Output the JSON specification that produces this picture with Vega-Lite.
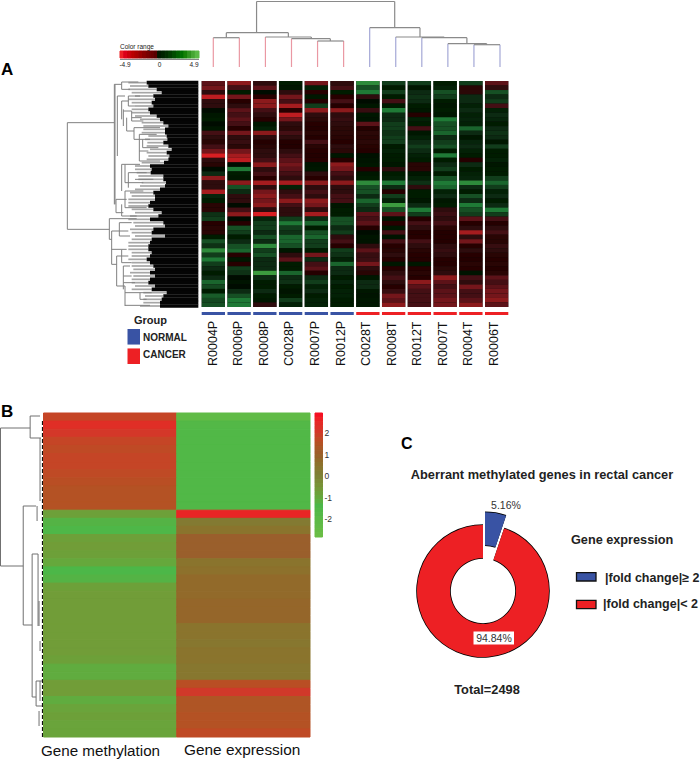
{"$schema":"https://vega.github.io/schema/vega-lite/v6.json","width":700,"height":765,"padding":0,"autosize":{"type":"fit","contains":"padding"},"background":"white",
"config":{"view":{"stroke":null},"axis":{"disable":true},"legend":{"disable":true},"text":{"font":"Liberation Sans"}},
"resolve":{"scale":{"x":"independent","y":"independent","color":"independent","stroke":"independent","theta":"independent"}},
"datasets":{
"samples":[{"c":0,"name":"R0004P","g":"NORMAL"},{"c":1,"name":"R0006P","g":"NORMAL"},{"c":2,"name":"R0008P","g":"NORMAL"},{"c":3,"name":"C0028P","g":"NORMAL"},{"c":4,"name":"R0007P","g":"NORMAL"},{"c":5,"name":"R0012P","g":"NORMAL"},{"c":6,"name":"C0028T","g":"CANCER"},{"c":7,"name":"R0008T","g":"CANCER"},{"c":8,"name":"R0012T","g":"CANCER"},{"c":9,"name":"R0007T","g":"CANCER"},{"c":10,"name":"R0004T","g":"CANCER"},{"c":11,"name":"R0006T","g":"CANCER"}],
"groups":[{"g":"NORMAL"},{"g":"CANCER"}],
"donut":[{"group":"|fold change|≥ 2","pct":5.16,"from":0,"to":5.16,"explode":1},{"group":"|fold change|< 2","pct":94.84,"from":5.16,"to":100,"explode":0}],
"colorRange":[{"v":-4.9},{"v":-4.4},{"v":-3.9},{"v":-3.4},{"v":-2.9},{"v":-2.4},{"v":-1.9},{"v":-1.4},{"v":-0.9},{"v":-0.4},{"v":0},{"v":0.4},{"v":0.9},{"v":1.4},{"v":1.9},{"v":2.4},{"v":2.9},{"v":3.4},{"v":3.9},{"v":4.4},{"v":4.9}],
"colorBar":[{"v":2.9},{"v":2.7},{"v":2.5},{"v":2.3},{"v":2.1},{"v":1.9},{"v":1.7},{"v":1.5},{"v":1.3},{"v":1.1},{"v":0.9},{"v":0.7},{"v":0.5},{"v":0.3},{"v":0.1},{"v":-0.1},{"v":-0.3},{"v":-0.5},{"v":-0.7},{"v":-0.9},{"v":-1.1},{"v":-1.3},{"v":-1.5},{"v":-1.7},{"v":-1.9},{"v":-2.1},{"v":-2.3},{"v":-2.5},{"v":-2.7},{"v":-2.9}],
"colTree":[
{"a":0,"b":0,"c":0,"d":29.3,"k":"cancer"},{"a":1,"b":0,"c":1,"d":29.3,"k":"cancer"},{"a":2,"b":0,"c":2,"d":30,"k":"cancer"},{"a":3,"b":0,"c":3,"d":28.3,"k":"cancer"},{"a":4,"b":0,"c":4,"d":26,"k":"cancer"},{"a":5,"b":0,"c":5,"d":26,"k":"cancer"},
{"a":6,"b":0,"c":6,"d":39.3,"k":"normal"},{"a":7,"b":0,"c":7,"d":30,"k":"normal"},{"a":8,"b":0,"c":8,"d":29.3,"k":"normal"},{"a":9,"b":0,"c":9,"d":23.3,"k":"normal"},{"a":10,"b":0,"c":10,"d":22.3,"k":"normal"},{"a":11,"b":0,"c":11,"d":22.3,"k":"normal"},
{"a":0,"b":29.3,"c":1,"d":29.3,"k":"root"},{"a":0.5,"b":29.3,"c":0.5,"d":34.3,"k":"root"},{"a":4,"b":26,"c":5,"d":26,"k":"root"},{"a":4.49,"b":26,"c":4.49,"d":28.3,"k":"root"},{"a":3,"b":28.3,"c":4.49,"d":28.3,"k":"root"},{"a":3.76,"b":28.3,"c":3.76,"d":30,"k":"root"},{"a":2,"b":30,"c":3.76,"d":30,"k":"root"},{"a":2.88,"b":30,"c":2.88,"d":34.3,"k":"root"},{"a":0.5,"b":34.3,"c":2.88,"d":34.3,"k":"root"},{"a":1.66,"b":34.3,"c":1.66,"d":65.5,"k":"root"},{"a":1.66,"b":65.5,"c":6.96,"d":65.5,"k":"root"},{"a":6.96,"b":39.3,"c":6.96,"d":65.5,"k":"root"},{"a":6,"b":39.3,"c":7.93,"d":39.3,"k":"root"},{"a":7.93,"b":30,"c":7.93,"d":39.3,"k":"root"},{"a":7,"b":30,"c":8.86,"d":30,"k":"root"},{"a":8.86,"b":29.3,"c":8.86,"d":30,"k":"root"},{"a":8,"b":29.3,"c":9.73,"d":29.3,"k":"root"},{"a":9.73,"b":23.3,"c":9.73,"d":29.3,"k":"root"},{"a":9,"b":23.3,"c":10.49,"d":23.3,"k":"root"},{"a":10.49,"b":22.3,"c":10.49,"d":23.3,"k":"root"},{"a":10,"b":22.3,"c":11,"d":22.3,"k":"root"}],
"rowTree":[
{"a":22,"b":140,"c":22,"d":460},{"a":22,"b":140,"c":163,"d":140},{"a":22,"b":460,"c":148,"d":460},{"a":163,"b":25,"c":163,"d":385},{"a":165,"b":25,"c":165,"d":385},{"a":163,"b":25,"c":185,"d":25},{"a":185,"b":18,"c":185,"d":40},{"a":185,"b":18,"c":235,"d":18},{"a":185,"b":40,"c":210,"d":40},{"a":172,"b":60,"c":195,"d":60},{"a":172,"b":60,"c":172,"d":240},{"a":185,"b":75,"c":185,"d":130},{"a":185,"b":75,"c":205,"d":75},{"a":205,"b":60,"c":205,"d":90},{"a":205,"b":60,"c":240,"d":60},{"a":205,"b":90,"c":225,"d":90},{"a":190,"b":105,"c":215,"d":105},{"a":190,"b":100,"c":190,"d":150},{"a":215,"b":105,"c":215,"d":135},{"a":215,"b":125,"c":245,"d":125},{"a":215,"b":135,"c":250,"d":135},{"a":200,"b":125,"c":200,"d":165},{"a":200,"b":165,"c":222,"d":165},{"a":222,"b":155,"c":222,"d":190},{"a":222,"b":155,"c":300,"d":155},{"a":222,"b":190,"c":270,"d":190},{"a":238,"b":175,"c":238,"d":255},{"a":238,"b":175,"c":290,"d":175},{"a":238,"b":225,"c":265,"d":225},{"a":238,"b":255,"c":300,"d":255},{"a":248,"b":190,"c":248,"d":215},{"a":248,"b":215,"c":295,"d":215},{"a":185,"b":265,"c":185,"d":345},{"a":185,"b":265,"c":240,"d":265},{"a":195,"b":265,"c":195,"d":320},{"a":195,"b":320,"c":250,"d":320},{"a":205,"b":290,"c":205,"d":335},{"a":205,"b":290,"c":260,"d":290},{"a":225,"b":310,"c":280,"d":310},{"a":168,"b":370,"c":168,"d":410},{"a":168,"b":370,"c":200,"d":370},{"a":168,"b":410,"c":190,"d":410},{"a":195,"b":345,"c":195,"d":395},{"a":195,"b":345,"c":250,"d":345},{"a":195,"b":395,"c":260,"d":395},{"a":185,"b":385,"c":185,"d":420},{"a":185,"b":420,"c":230,"d":420},
{"a":148,"b":428,"c":230,"d":428},{"a":148,"b":428,"c":148,"d":490},{"a":148,"b":490,"c":155,"d":490},{"a":178,"b":440,"c":178,"d":480},{"a":178,"b":440,"c":215,"d":440},{"a":178,"b":465,"c":205,"d":465},{"a":178,"b":480,"c":210,"d":480},{"a":155,"b":465,"c":155,"d":565},{"a":155,"b":465,"c":178,"d":465},{"a":155,"b":565,"c":170,"d":565},{"a":155,"b":520,"c":185,"d":520},{"a":170,"b":540,"c":170,"d":630},{"a":170,"b":540,"c":205,"d":540},{"a":170,"b":630,"c":195,"d":630},{"a":185,"b":520,"c":185,"d":560},{"a":185,"b":520,"c":200,"d":520},{"a":185,"b":560,"c":215,"d":560},{"a":190,"b":570,"c":190,"d":640},{"a":190,"b":570,"c":210,"d":570},{"a":190,"b":600,"c":215,"d":600},{"a":190,"b":620,"c":225,"d":620},{"a":195,"b":630,"c":195,"d":690},{"a":195,"b":650,"c":240,"d":650},{"a":195,"b":688,"c":270,"d":688},{"a":240,"b":650,"c":240,"d":670},{"a":240,"b":650,"c":275,"d":650},{"a":240,"b":670,"c":260,"d":670}],
"leaves":[{"y":20,"s":205,"e":260},{"y":30,"s":210,"e":265},{"y":40,"s":205,"e":290},{"y":50,"s":215,"e":305},{"y":60,"s":225,"e":280},{"y":70,"s":205,"e":285},{"y":80,"s":215,"e":275},{"y":90,"s":225,"e":280},{"y":100,"s":215,"e":265},{"y":110,"s":215,"e":270},{"y":120,"s":225,"e":290},{"y":130,"s":240,"e":300},{"y":140,"s":245,"e":310},{"y":150,"s":250,"e":325},{"y":160,"s":250,"e":315},{"y":170,"s":245,"e":315},{"y":180,"s":265,"e":320},{"y":190,"s":255,"e":322},{"y":200,"s":262,"e":310},{"y":210,"s":260,"e":325},{"y":220,"s":270,"e":335},{"y":230,"s":260,"e":320},{"y":240,"s":265,"e":328},{"y":250,"s":260,"e":325},{"y":260,"s":245,"e":312},{"y":270,"s":225,"e":270},{"y":280,"s":225,"e":275},{"y":290,"s":230,"e":272},{"y":300,"s":235,"e":310},{"y":310,"s":235,"e":310},{"y":320,"s":245,"e":318},{"y":330,"s":240,"e":315},{"y":340,"s":225,"e":300},{"y":350,"s":210,"e":280},{"y":360,"s":215,"e":285},{"y":370,"s":205,"e":285},{"y":380,"s":205,"e":270},{"y":390,"s":205,"e":265},{"y":400,"s":215,"e":280},{"y":410,"s":225,"e":305},{"y":420,"s":210,"e":295},{"y":430,"s":205,"e":270},{"y":440,"s":220,"e":310},{"y":450,"s":225,"e":315},{"y":460,"s":210,"e":280},{"y":470,"s":215,"e":275},{"y":480,"s":225,"e":315},{"y":490,"s":215,"e":275},{"y":500,"s":205,"e":270},{"y":510,"s":205,"e":265},{"y":520,"s":205,"e":265},{"y":530,"s":215,"e":275},{"y":540,"s":215,"e":270},{"y":550,"s":205,"e":260},{"y":560,"s":215,"e":270},{"y":570,"s":215,"e":280},{"y":580,"s":220,"e":285},{"y":590,"s":210,"e":270},{"y":600,"s":220,"e":285},{"y":610,"s":215,"e":270},{"y":620,"s":215,"e":265},{"y":630,"s":225,"e":285},{"y":640,"s":215,"e":275},{"y":650,"s":250,"e":320},{"y":660,"s":255,"e":310},{"y":670,"s":250,"e":305},{"y":680,"s":250,"e":300},{"y":690,"s":240,"e":300}],
"methTree":[{"a":0,"b":427,"c":0,"d":565},{"a":0,"b":427,"c":30,"d":427},{"a":30,"b":415,"c":30,"d":437},{"a":30,"b":415,"c":40,"d":415},{"a":30,"b":437,"c":41,"d":437},{"a":0,"b":565,"c":23,"d":565},{"a":23,"b":505,"c":23,"d":624},{"a":23,"b":505,"c":36,"d":505},{"a":23,"b":624,"c":32,"d":624},{"a":32,"b":553,"c":32,"d":696},{"a":32,"b":553,"c":38,"d":553},{"a":32,"b":696,"c":36,"d":696},{"a":40,"b":437,"c":40,"d":500},{"a":37,"b":505,"c":37,"d":520},{"a":38,"b":553,"c":38,"d":625},{"a":39,"b":600,"c":39,"d":625},{"a":40,"b":640,"c":40,"d":650},{"a":40,"b":680,"c":40,"d":700},{"a":36,"b":680,"c":36,"d":705},{"a":36,"b":680,"c":42,"d":680},{"a":36,"b":705,"c":42,"d":705},{"a":39,"b":710,"c":39,"d":725}],
"methDash":[{"a":42.5,"b":420,"c":42.5,"d":736}],
"cellsB":[
{"k":"Gene methylation","r":0,"v":1.8},{"k":"Gene methylation","r":1,"v":2.4},{"k":"Gene methylation","r":2,"v":2.1},{"k":"Gene methylation","r":3,"v":1.8},{"k":"Gene methylation","r":4,"v":1.7},{"k":"Gene methylation","r":5,"v":1.8},{"k":"Gene methylation","r":6,"v":1.8},{"k":"Gene methylation","r":7,"v":1.7},{"k":"Gene methylation","r":8,"v":1.6},{"k":"Gene methylation","r":9,"v":1.5},{"k":"Gene methylation","r":10,"v":1.5},{"k":"Gene methylation","r":11,"v":1.5},{"k":"Gene methylation","r":12,"v":-0.9},{"k":"Gene methylation","r":13,"v":-1.4},{"k":"Gene methylation","r":14,"v":-1.6},{"k":"Gene methylation","r":15,"v":-0.9},{"k":"Gene methylation","r":16,"v":-0.8},{"k":"Gene methylation","r":17,"v":-0.9},{"k":"Gene methylation","r":18,"v":-1.1},{"k":"Gene methylation","r":19,"v":-1.5},{"k":"Gene methylation","r":20,"v":-1.4},{"k":"Gene methylation","r":21,"v":-0.9},{"k":"Gene methylation","r":22,"v":-0.8},{"k":"Gene methylation","r":23,"v":-0.8},{"k":"Gene methylation","r":24,"v":-0.8},{"k":"Gene methylation","r":25,"v":-0.8},{"k":"Gene methylation","r":26,"v":-0.8},{"k":"Gene methylation","r":27,"v":-0.8},{"k":"Gene methylation","r":28,"v":-0.8},{"k":"Gene methylation","r":29,"v":-0.8},{"k":"Gene methylation","r":30,"v":-0.9},{"k":"Gene methylation","r":31,"v":-1.2},{"k":"Gene methylation","r":32,"v":-1.2},{"k":"Gene methylation","r":33,"v":-0.8},{"k":"Gene methylation","r":34,"v":-0.8},{"k":"Gene methylation","r":35,"v":-1.2},{"k":"Gene methylation","r":36,"v":-1.0},{"k":"Gene methylation","r":37,"v":-0.9},{"k":"Gene methylation","r":38,"v":-1.0},{"k":"Gene methylation","r":39,"v":-1.0},
{"k":"Gene expression","r":0,"v":-2.4},{"k":"Gene expression","r":1,"v":-1.8},{"k":"Gene expression","r":2,"v":-1.7},{"k":"Gene expression","r":3,"v":-1.7},{"k":"Gene expression","r":4,"v":-1.7},{"k":"Gene expression","r":5,"v":-1.7},{"k":"Gene expression","r":6,"v":-1.7},{"k":"Gene expression","r":7,"v":-1.7},{"k":"Gene expression","r":8,"v":-1.7},{"k":"Gene expression","r":9,"v":-1.7},{"k":"Gene expression","r":10,"v":-1.7},{"k":"Gene expression","r":11,"v":-1.7},{"k":"Gene expression","r":12,"v":2.6},{"k":"Gene expression","r":13,"v":0.2},{"k":"Gene expression","r":14,"v":0.4},{"k":"Gene expression","r":15,"v":1.0},{"k":"Gene expression","r":16,"v":1.0},{"k":"Gene expression","r":17,"v":1.0},{"k":"Gene expression","r":18,"v":0.4},{"k":"Gene expression","r":19,"v":0.5},{"k":"Gene expression","r":20,"v":0.7},{"k":"Gene expression","r":21,"v":0.7},{"k":"Gene expression","r":22,"v":0.7},{"k":"Gene expression","r":23,"v":0.8},{"k":"Gene expression","r":24,"v":0.8},{"k":"Gene expression","r":25,"v":0.8},{"k":"Gene expression","r":26,"v":0.4},{"k":"Gene expression","r":27,"v":0.4},{"k":"Gene expression","r":28,"v":0.3},{"k":"Gene expression","r":29,"v":0.4},{"k":"Gene expression","r":30,"v":0.4},{"k":"Gene expression","r":31,"v":0.3},{"k":"Gene expression","r":32,"v":0.3},{"k":"Gene expression","r":33,"v":1.6},{"k":"Gene expression","r":34,"v":2.0},{"k":"Gene expression","r":35,"v":1.4},{"k":"Gene expression","r":36,"v":1.4},{"k":"Gene expression","r":37,"v":1.5},{"k":"Gene expression","r":38,"v":1.5},{"k":"Gene expression","r":39,"v":1.7}],
"cellsA":[
{"c":0,"r":0,"v":-2},{"c":0,"r":1,"v":-2.5},{"c":0,"r":2,"v":-1},{"c":0,"r":3,"v":-4},{"c":0,"r":4,"v":-1},{"c":0,"r":5,"v":-1},{"c":0,"r":6,"v":0},{"c":0,"r":7,"v":0.3},{"c":0,"r":8,"v":0.5},{"c":0,"r":9,"v":0},{"c":0,"r":10,"v":0.3},{"c":0,"r":11,"v":-1.5},{"c":0,"r":12,"v":-1},{"c":0,"r":13,"v":-0.7},{"c":0,"r":14,"v":-1.5},{"c":0,"r":15,"v":-2.5},{"c":0,"r":16,"v":-4.5},{"c":0,"r":17,"v":-1},{"c":0,"r":18,"v":-0.7},{"c":0,"r":19,"v":0},{"c":0,"r":20,"v":1},{"c":0,"r":21,"v":-3},{"c":0,"r":22,"v":-1},{"c":0,"r":23,"v":-1},{"c":0,"r":24,"v":-3.5},{"c":0,"r":25,"v":0.8},{"c":0,"r":26,"v":0.5},{"c":0,"r":27,"v":-0.7},{"c":0,"r":28,"v":-0.7},{"c":0,"r":29,"v":1.2},{"c":0,"r":30,"v":1.5},{"c":0,"r":31,"v":-0.5},{"c":0,"r":32,"v":-0.7},{"c":0,"r":33,"v":-0.7},{"c":0,"r":34,"v":0.5},{"c":0,"r":35,"v":2},{"c":0,"r":36,"v":1.2},{"c":0,"r":37,"v":3.5},{"c":0,"r":38,"v":1.5},{"c":0,"r":39,"v":3},{"c":0,"r":40,"v":1.5},{"c":0,"r":41,"v":1},{"c":0,"r":42,"v":0.5},{"c":0,"r":43,"v":1},{"c":0,"r":44,"v":2.5},{"c":0,"r":45,"v":1.8},{"c":0,"r":46,"v":0.5},{"c":0,"r":47,"v":2.3},{"c":0,"r":48,"v":1.8},{"c":0,"r":49,"v":2},
{"c":1,"r":0,"v":-3},{"c":1,"r":1,"v":-1.5},{"c":1,"r":2,"v":0.5},{"c":1,"r":3,"v":-2.5},{"c":1,"r":4,"v":-0.5},{"c":1,"r":5,"v":-1},{"c":1,"r":6,"v":-2},{"c":1,"r":7,"v":-1.5},{"c":1,"r":8,"v":-2},{"c":1,"r":9,"v":-1.5},{"c":1,"r":10,"v":-0.5},{"c":1,"r":11,"v":-2.5},{"c":1,"r":12,"v":-1},{"c":1,"r":13,"v":-1.2},{"c":1,"r":14,"v":-0.8},{"c":1,"r":15,"v":-2.5},{"c":1,"r":16,"v":-3.5},{"c":1,"r":17,"v":-4},{"c":1,"r":18,"v":0},{"c":1,"r":19,"v":3},{"c":1,"r":20,"v":0.5},{"c":1,"r":21,"v":0.3},{"c":1,"r":22,"v":-3},{"c":1,"r":23,"v":2},{"c":1,"r":24,"v":1},{"c":1,"r":25,"v":-1},{"c":1,"r":26,"v":-1},{"c":1,"r":27,"v":0},{"c":1,"r":28,"v":-1.5},{"c":1,"r":29,"v":-3},{"c":1,"r":30,"v":0},{"c":1,"r":31,"v":-0.5},{"c":1,"r":32,"v":2},{"c":1,"r":33,"v":1.5},{"c":1,"r":34,"v":0.5},{"c":1,"r":35,"v":1},{"c":1,"r":36,"v":2},{"c":1,"r":37,"v":2.5},{"c":1,"r":38,"v":-0.5},{"c":1,"r":39,"v":0.3},{"c":1,"r":40,"v":-0.5},{"c":1,"r":41,"v":1.5},{"c":1,"r":42,"v":1.2},{"c":1,"r":43,"v":0},{"c":1,"r":44,"v":0.2},{"c":1,"r":45,"v":0},{"c":1,"r":46,"v":1},{"c":1,"r":47,"v":2},{"c":1,"r":48,"v":3},{"c":1,"r":49,"v":3},
{"c":2,"r":0,"v":-1},{"c":2,"r":1,"v":-2},{"c":2,"r":2,"v":0},{"c":2,"r":3,"v":-0.5},{"c":2,"r":4,"v":-3},{"c":2,"r":5,"v":-3},{"c":2,"r":6,"v":-1.5},{"c":2,"r":7,"v":-1},{"c":2,"r":8,"v":-0.5},{"c":2,"r":9,"v":0.3},{"c":2,"r":10,"v":0.7},{"c":2,"r":11,"v":-3},{"c":2,"r":12,"v":-1},{"c":2,"r":13,"v":-0.3},{"c":2,"r":14,"v":-0.7},{"c":2,"r":15,"v":-1},{"c":2,"r":16,"v":-1},{"c":2,"r":17,"v":-1.5},{"c":2,"r":18,"v":-3},{"c":2,"r":19,"v":-1},{"c":2,"r":20,"v":-1.5},{"c":2,"r":21,"v":-0.5},{"c":2,"r":22,"v":-3.5},{"c":2,"r":23,"v":-1},{"c":2,"r":24,"v":-2.5},{"c":2,"r":25,"v":-3},{"c":2,"r":26,"v":-2.5},{"c":2,"r":27,"v":-3},{"c":2,"r":28,"v":-1},{"c":2,"r":29,"v":-4.5},{"c":2,"r":30,"v":0.8},{"c":2,"r":31,"v":1.5},{"c":2,"r":32,"v":1.5},{"c":2,"r":33,"v":1},{"c":2,"r":34,"v":2},{"c":2,"r":35,"v":1},{"c":2,"r":36,"v":3.5},{"c":2,"r":37,"v":1.5},{"c":2,"r":38,"v":2},{"c":2,"r":39,"v":1},{"c":2,"r":40,"v":1},{"c":2,"r":41,"v":1},{"c":2,"r":42,"v":4},{"c":2,"r":43,"v":1},{"c":2,"r":44,"v":0.5},{"c":2,"r":45,"v":0.5},{"c":2,"r":46,"v":1},{"c":2,"r":47,"v":0.5},{"c":2,"r":48,"v":0.3},{"c":2,"r":49,"v":-1},
{"c":3,"r":0,"v":0.5},{"c":3,"r":1,"v":0.3},{"c":3,"r":2,"v":-1},{"c":3,"r":3,"v":-2.5},{"c":3,"r":4,"v":-1.5},{"c":3,"r":5,"v":-3.5},{"c":3,"r":6,"v":-0.5},{"c":3,"r":7,"v":-4},{"c":3,"r":8,"v":-2.5},{"c":3,"r":9,"v":-1},{"c":3,"r":10,"v":-0.8},{"c":3,"r":11,"v":-1.5},{"c":3,"r":12,"v":-1},{"c":3,"r":13,"v":-0.3},{"c":3,"r":14,"v":-0.2},{"c":3,"r":15,"v":-1},{"c":3,"r":16,"v":-1.5},{"c":3,"r":17,"v":-2},{"c":3,"r":18,"v":-2.5},{"c":3,"r":19,"v":-2},{"c":3,"r":20,"v":-1.5},{"c":3,"r":21,"v":-1},{"c":3,"r":22,"v":-3.5},{"c":3,"r":23,"v":0.7},{"c":3,"r":24,"v":-1},{"c":3,"r":25,"v":-1.5},{"c":3,"r":26,"v":-3},{"c":3,"r":27,"v":-1.5},{"c":3,"r":28,"v":-1},{"c":3,"r":29,"v":-1},{"c":3,"r":30,"v":1.5},{"c":3,"r":31,"v":3},{"c":3,"r":32,"v":1.5},{"c":3,"r":33,"v":1.2},{"c":3,"r":34,"v":2.5},{"c":3,"r":35,"v":2.5},{"c":3,"r":36,"v":2},{"c":3,"r":37,"v":0.3},{"c":3,"r":38,"v":-1},{"c":3,"r":39,"v":-2},{"c":3,"r":40,"v":0.5},{"c":3,"r":41,"v":0.5},{"c":3,"r":42,"v":2.5},{"c":3,"r":43,"v":1},{"c":3,"r":44,"v":1.2},{"c":3,"r":45,"v":0.5},{"c":3,"r":46,"v":0.2},{"c":3,"r":47,"v":0.5},{"c":3,"r":48,"v":1.5},{"c":3,"r":49,"v":0.7},
{"c":4,"r":0,"v":-2.5},{"c":4,"r":1,"v":0.7},{"c":4,"r":2,"v":-0.5},{"c":4,"r":3,"v":0.3},{"c":4,"r":4,"v":-0.3},{"c":4,"r":5,"v":1.5},{"c":4,"r":6,"v":-3},{"c":4,"r":7,"v":-1},{"c":4,"r":8,"v":-0.8},{"c":4,"r":9,"v":-0.5},{"c":4,"r":10,"v":-0.2},{"c":4,"r":11,"v":-0.7},{"c":4,"r":12,"v":-0.3},{"c":4,"r":13,"v":-1.5},{"c":4,"r":14,"v":-0.7},{"c":4,"r":15,"v":-0.5},{"c":4,"r":16,"v":-0.2},{"c":4,"r":17,"v":-0.5},{"c":4,"r":18,"v":0.2},{"c":4,"r":19,"v":0.3},{"c":4,"r":20,"v":-1},{"c":4,"r":21,"v":-0.5},{"c":4,"r":22,"v":-3},{"c":4,"r":23,"v":-1},{"c":4,"r":24,"v":-1.5},{"c":4,"r":25,"v":-1},{"c":4,"r":26,"v":-3},{"c":4,"r":27,"v":-2.5},{"c":4,"r":28,"v":-1},{"c":4,"r":29,"v":-3.5},{"c":4,"r":30,"v":1},{"c":4,"r":31,"v":2.5},{"c":4,"r":32,"v":0.5},{"c":4,"r":33,"v":2},{"c":4,"r":34,"v":2.5},{"c":4,"r":35,"v":1.5},{"c":4,"r":36,"v":1.5},{"c":4,"r":37,"v":0.5},{"c":4,"r":38,"v":-2.5},{"c":4,"r":39,"v":1},{"c":4,"r":40,"v":-1.5},{"c":4,"r":41,"v":-2},{"c":4,"r":42,"v":-0.3},{"c":4,"r":43,"v":1},{"c":4,"r":44,"v":1.5},{"c":4,"r":45,"v":0.7},{"c":4,"r":46,"v":1},{"c":4,"r":47,"v":0.5},{"c":4,"r":48,"v":0.7},{"c":4,"r":49,"v":0.7},
{"c":5,"r":0,"v":-1},{"c":5,"r":1,"v":-1.5},{"c":5,"r":2,"v":0.5},{"c":5,"r":3,"v":-0.5},{"c":5,"r":4,"v":-1.5},{"c":5,"r":5,"v":-0.3},{"c":5,"r":6,"v":-3},{"c":5,"r":7,"v":-1},{"c":5,"r":8,"v":-1.2},{"c":5,"r":9,"v":-1},{"c":5,"r":10,"v":-0.8},{"c":5,"r":11,"v":-0.8},{"c":5,"r":12,"v":-0.7},{"c":5,"r":13,"v":-0.5},{"c":5,"r":14,"v":-1},{"c":5,"r":15,"v":-0.8},{"c":5,"r":16,"v":0.3},{"c":5,"r":17,"v":-0.5},{"c":5,"r":18,"v":-3},{"c":5,"r":19,"v":-2.5},{"c":5,"r":20,"v":-1.5},{"c":5,"r":21,"v":-1},{"c":5,"r":22,"v":-3},{"c":5,"r":23,"v":-1},{"c":5,"r":24,"v":-1},{"c":5,"r":25,"v":-1.5},{"c":5,"r":26,"v":-1.5},{"c":5,"r":27,"v":0.3},{"c":5,"r":28,"v":0.5},{"c":5,"r":29,"v":0.5},{"c":5,"r":30,"v":2},{"c":5,"r":31,"v":2},{"c":5,"r":32,"v":1},{"c":5,"r":33,"v":1.5},{"c":5,"r":34,"v":-1},{"c":5,"r":35,"v":-1.5},{"c":5,"r":36,"v":-0.5},{"c":5,"r":37,"v":1.5},{"c":5,"r":38,"v":1.2},{"c":5,"r":39,"v":0.7},{"c":5,"r":40,"v":2.5},{"c":5,"r":41,"v":1},{"c":5,"r":42,"v":1},{"c":5,"r":43,"v":0.5},{"c":5,"r":44,"v":0.8},{"c":5,"r":45,"v":0.5},{"c":5,"r":46,"v":0.7},{"c":5,"r":47,"v":0.7},{"c":5,"r":48,"v":0.5},{"c":5,"r":49,"v":0.5},
{"c":6,"r":0,"v":3.5},{"c":6,"r":1,"v":2},{"c":6,"r":2,"v":3},{"c":6,"r":3,"v":-1},{"c":6,"r":4,"v":0},{"c":6,"r":5,"v":0.3},{"c":6,"r":6,"v":-1.2},{"c":6,"r":7,"v":0.3},{"c":6,"r":8,"v":0.2},{"c":6,"r":9,"v":-2},{"c":6,"r":10,"v":-0.3},{"c":6,"r":11,"v":-0.8},{"c":6,"r":12,"v":-0.7},{"c":6,"r":13,"v":-0.8},{"c":6,"r":14,"v":-0.6},{"c":6,"r":15,"v":-0.3},{"c":6,"r":16,"v":0.1},{"c":6,"r":17,"v":0.2},{"c":6,"r":18,"v":0.3},{"c":6,"r":19,"v":-0.3},{"c":6,"r":20,"v":0.3},{"c":6,"r":21,"v":0.5},{"c":6,"r":22,"v":3.5},{"c":6,"r":23,"v":2},{"c":6,"r":24,"v":2},{"c":6,"r":25,"v":1},{"c":6,"r":26,"v":2.5},{"c":6,"r":27,"v":1.5},{"c":6,"r":28,"v":1},{"c":6,"r":29,"v":-2},{"c":6,"r":30,"v":-1.5},{"c":6,"r":31,"v":-2},{"c":6,"r":32,"v":-0.2},{"c":6,"r":33,"v":0},{"c":6,"r":34,"v":0.2},{"c":6,"r":35,"v":0.2},{"c":6,"r":36,"v":-1},{"c":6,"r":37,"v":-2},{"c":6,"r":38,"v":-1.2},{"c":6,"r":39,"v":-1.3},{"c":6,"r":40,"v":-2.5},{"c":6,"r":41,"v":-1},{"c":6,"r":42,"v":-0.7},{"c":6,"r":43,"v":0.3},{"c":6,"r":44,"v":1},{"c":6,"r":45,"v":1},{"c":6,"r":46,"v":0.3},{"c":6,"r":47,"v":0.2},{"c":6,"r":48,"v":0.3},{"c":6,"r":49,"v":0.3},
{"c":7,"r":0,"v":1.5},{"c":7,"r":1,"v":0.5},{"c":7,"r":2,"v":1.5},{"c":7,"r":3,"v":0.5},{"c":7,"r":4,"v":-1.5},{"c":7,"r":5,"v":0.5},{"c":7,"r":6,"v":3},{"c":7,"r":7,"v":1},{"c":7,"r":8,"v":1},{"c":7,"r":9,"v":1.5},{"c":7,"r":10,"v":1.5},{"c":7,"r":11,"v":1.2},{"c":7,"r":12,"v":1.5},{"c":7,"r":13,"v":1.5},{"c":7,"r":14,"v":0.5},{"c":7,"r":15,"v":0.7},{"c":7,"r":16,"v":0.5},{"c":7,"r":17,"v":0.5},{"c":7,"r":18,"v":0.3},{"c":7,"r":19,"v":-1},{"c":7,"r":20,"v":0.5},{"c":7,"r":21,"v":0.7},{"c":7,"r":22,"v":3},{"c":7,"r":23,"v":1},{"c":7,"r":24,"v":-0.3},{"c":7,"r":25,"v":1.5},{"c":7,"r":26,"v":0.7},{"c":7,"r":27,"v":4},{"c":7,"r":28,"v":2},{"c":7,"r":29,"v":-2},{"c":7,"r":30,"v":0.2},{"c":7,"r":31,"v":-0.5},{"c":7,"r":32,"v":0.3},{"c":7,"r":33,"v":-1.5},{"c":7,"r":34,"v":0.2},{"c":7,"r":35,"v":-1.5},{"c":7,"r":36,"v":-0.5},{"c":7,"r":37,"v":-0.7},{"c":7,"r":38,"v":-1},{"c":7,"r":39,"v":-0.5},{"c":7,"r":40,"v":0.3},{"c":7,"r":41,"v":-0.5},{"c":7,"r":42,"v":-1},{"c":7,"r":43,"v":-1.5},{"c":7,"r":44,"v":-1},{"c":7,"r":45,"v":-0.5},{"c":7,"r":46,"v":-1.2},{"c":7,"r":47,"v":-2.5},{"c":7,"r":48,"v":-2},{"c":7,"r":49,"v":-3},
{"c":8,"r":0,"v":1.5},{"c":8,"r":1,"v":0.3},{"c":8,"r":2,"v":1},{"c":8,"r":3,"v":1.2},{"c":8,"r":4,"v":1},{"c":8,"r":5,"v":0.5},{"c":8,"r":6,"v":0.3},{"c":8,"r":7,"v":-0.3},{"c":8,"r":8,"v":0.7},{"c":8,"r":9,"v":0.5},{"c":8,"r":10,"v":-1.5},{"c":8,"r":11,"v":0.3},{"c":8,"r":12,"v":0.7},{"c":8,"r":13,"v":1},{"c":8,"r":14,"v":1.5},{"c":8,"r":15,"v":1},{"c":8,"r":16,"v":0.7},{"c":8,"r":17,"v":0.5},{"c":8,"r":18,"v":-0.7},{"c":8,"r":19,"v":-0.7},{"c":8,"r":20,"v":0.3},{"c":8,"r":21,"v":0.7},{"c":8,"r":22,"v":1.2},{"c":8,"r":23,"v":-1},{"c":8,"r":24,"v":0.5},{"c":8,"r":25,"v":0.5},{"c":8,"r":26,"v":0.3},{"c":8,"r":27,"v":1},{"c":8,"r":28,"v":3},{"c":8,"r":29,"v":1.5},{"c":8,"r":30,"v":-0.3},{"c":8,"r":31,"v":-1.5},{"c":8,"r":32,"v":-1},{"c":8,"r":33,"v":-0.3},{"c":8,"r":34,"v":-0.5},{"c":8,"r":35,"v":-1.5},{"c":8,"r":36,"v":-1},{"c":8,"r":37,"v":-0.7},{"c":8,"r":38,"v":-0.5},{"c":8,"r":39,"v":-0.3},{"c":8,"r":40,"v":0.3},{"c":8,"r":41,"v":-0.5},{"c":8,"r":42,"v":-0.7},{"c":8,"r":43,"v":-0.5},{"c":8,"r":44,"v":-3},{"c":8,"r":45,"v":-2},{"c":8,"r":46,"v":-1.5},{"c":8,"r":47,"v":-1.5},{"c":8,"r":48,"v":-1.5},{"c":8,"r":49,"v":-1.5},
{"c":9,"r":0,"v":0.5},{"c":9,"r":1,"v":0.7},{"c":9,"r":2,"v":2},{"c":9,"r":3,"v":1.5},{"c":9,"r":4,"v":0.5},{"c":9,"r":5,"v":0.3},{"c":9,"r":6,"v":0.5},{"c":9,"r":7,"v":0.3},{"c":9,"r":8,"v":3},{"c":9,"r":9,"v":2},{"c":9,"r":10,"v":2},{"c":9,"r":11,"v":2.5},{"c":9,"r":12,"v":1},{"c":9,"r":13,"v":1.5},{"c":9,"r":14,"v":2},{"c":9,"r":15,"v":0.5},{"c":9,"r":16,"v":3},{"c":9,"r":17,"v":0.5},{"c":9,"r":18,"v":1},{"c":9,"r":19,"v":1.5},{"c":9,"r":20,"v":0.5},{"c":9,"r":21,"v":2},{"c":9,"r":22,"v":3},{"c":9,"r":23,"v":2.5},{"c":9,"r":24,"v":0.7},{"c":9,"r":25,"v":1},{"c":9,"r":26,"v":0.3},{"c":9,"r":27,"v":0.5},{"c":9,"r":28,"v":-1},{"c":9,"r":29,"v":-1.3},{"c":9,"r":30,"v":-1},{"c":9,"r":31,"v":-1.5},{"c":9,"r":32,"v":-0.7},{"c":9,"r":33,"v":-0.2},{"c":9,"r":34,"v":-0.2},{"c":9,"r":35,"v":-0.3},{"c":9,"r":36,"v":-1},{"c":9,"r":37,"v":-1.2},{"c":9,"r":38,"v":-1},{"c":9,"r":39,"v":-0.5},{"c":9,"r":40,"v":-0.3},{"c":9,"r":41,"v":-0.8},{"c":9,"r":42,"v":-1},{"c":9,"r":43,"v":-3},{"c":9,"r":44,"v":-2},{"c":9,"r":45,"v":-1.5},{"c":9,"r":46,"v":-2},{"c":9,"r":47,"v":-2},{"c":9,"r":48,"v":-2.5},{"c":9,"r":49,"v":-2.5},
{"c":10,"r":0,"v":1.5},{"c":10,"r":1,"v":-0.7},{"c":10,"r":2,"v":-0.8},{"c":10,"r":3,"v":1},{"c":10,"r":4,"v":1},{"c":10,"r":5,"v":0.7},{"c":10,"r":6,"v":1},{"c":10,"r":7,"v":0.7},{"c":10,"r":8,"v":0.8},{"c":10,"r":9,"v":0.7},{"c":10,"r":10,"v":2.5},{"c":10,"r":11,"v":1},{"c":10,"r":12,"v":0.3},{"c":10,"r":13,"v":0.8},{"c":10,"r":14,"v":1},{"c":10,"r":15,"v":0.7},{"c":10,"r":16,"v":0.5},{"c":10,"r":17,"v":-0.3},{"c":10,"r":18,"v":1},{"c":10,"r":19,"v":0.5},{"c":10,"r":20,"v":0.7},{"c":10,"r":21,"v":0.8},{"c":10,"r":22,"v":3.5},{"c":10,"r":23,"v":1},{"c":10,"r":24,"v":0.5},{"c":10,"r":25,"v":2},{"c":10,"r":26,"v":1},{"c":10,"r":27,"v":3},{"c":10,"r":28,"v":2},{"c":10,"r":29,"v":1.5},{"c":10,"r":30,"v":-2},{"c":10,"r":31,"v":-0.5},{"c":10,"r":32,"v":-1},{"c":10,"r":33,"v":-3.5},{"c":10,"r":34,"v":-1},{"c":10,"r":35,"v":-2.5},{"c":10,"r":36,"v":-0.5},{"c":10,"r":37,"v":-1},{"c":10,"r":38,"v":-0.5},{"c":10,"r":39,"v":-0.2},{"c":10,"r":40,"v":-0.7},{"c":10,"r":41,"v":-0.5},{"c":10,"r":42,"v":0.2},{"c":10,"r":43,"v":-1.5},{"c":10,"r":44,"v":-1},{"c":10,"r":45,"v":-2.5},{"c":10,"r":46,"v":-1.5},{"c":10,"r":47,"v":-1.5},{"c":10,"r":48,"v":-2},{"c":10,"r":49,"v":-3},
{"c":11,"r":0,"v":-2},{"c":11,"r":1,"v":-1},{"c":11,"r":2,"v":2},{"c":11,"r":3,"v":1},{"c":11,"r":4,"v":1.5},{"c":11,"r":5,"v":-1.5},{"c":11,"r":6,"v":0.7},{"c":11,"r":7,"v":1},{"c":11,"r":8,"v":0.8},{"c":11,"r":9,"v":0.5},{"c":11,"r":10,"v":1},{"c":11,"r":11,"v":1.2},{"c":11,"r":12,"v":1},{"c":11,"r":13,"v":0.3},{"c":11,"r":14,"v":1.5},{"c":11,"r":15,"v":0.5},{"c":11,"r":16,"v":0.5},{"c":11,"r":17,"v":0.7},{"c":11,"r":18,"v":0.3},{"c":11,"r":19,"v":0.5},{"c":11,"r":20,"v":0.5},{"c":11,"r":21,"v":1.5},{"c":11,"r":22,"v":2.5},{"c":11,"r":23,"v":1.5},{"c":11,"r":24,"v":0.7},{"c":11,"r":25,"v":1},{"c":11,"r":26,"v":0.5},{"c":11,"r":27,"v":1},{"c":11,"r":28,"v":3},{"c":11,"r":29,"v":1.5},{"c":11,"r":30,"v":-1.5},{"c":11,"r":31,"v":-0.3},{"c":11,"r":32,"v":-1},{"c":11,"r":33,"v":-1.5},{"c":11,"r":34,"v":-0.7},{"c":11,"r":35,"v":-0.7},{"c":11,"r":36,"v":-1.2},{"c":11,"r":37,"v":-1},{"c":11,"r":38,"v":-0.7},{"c":11,"r":39,"v":-0.5},{"c":11,"r":40,"v":-0.7},{"c":11,"r":41,"v":-0.3},{"c":11,"r":42,"v":-0.7},{"c":11,"r":43,"v":-2},{"c":11,"r":44,"v":-1.5},{"c":11,"r":45,"v":-2},{"c":11,"r":46,"v":-2.5},{"c":11,"r":47,"v":-2.5},{"c":11,"r":48,"v":-3},{"c":11,"r":49,"v":-2}]
},
"layer":[
{"data":{"name":"colTree"},"mark":{"type":"rule","strokeWidth":1.2},"encoding":{"x":{"field":"a","type":"quantitative","scale":{"domain":[0,11],"range":[213.3,500]}},"x2":{"field":"c"},"y":{"field":"b","type":"quantitative","scale":{"domain":[0,66],"range":[66,0]}},"y2":{"field":"d"},"color":{"field":"k","type":"nominal","scale":{"domain":["cancer","normal","root"],"range":["#ea98a3","#a4a8d6","#8a8a8a"]}}}},
{"data":{"name":"colorRange"},"mark":{"type":"rect","strokeWidth":1},"encoding":{"x":{"field":"v","type":"ordinal","scale":{"range":[120,199],"paddingInner":0,"paddingOuter":0}},"y":{"datum":50,"scale":{"domain":[0,765],"range":[0,765]}},"y2":{"datum":57},"color":{"field":"v","type":"quantitative","scale":{"domain":[-4.9,0,4.9],"range":["#ed2024","#000000","#5ab946"]}},"stroke":{"field":"v","type":"quantitative","scale":{"domain":[-4.9,0,4.9],"range":["#ed2024","#000000","#5ab946"]}}}},
{"data":{"values":[{"t":"tick"}]},"mark":{"type":"rule","strokeWidth":1,"color":"#888"},"encoding":{"x":{"datum":120,"scale":{"domain":[0,700],"range":[0,700]}},"x2":{"datum":199},"y":{"datum":58.5,"scale":{"domain":[0,765],"range":[0,765]}}}},
{"data":{"values":[{"t":"Color range"}]},"mark":{"type":"text","fontSize":6.5,"align":"left","baseline":"middle","color":"#222"},"encoding":{"text":{"field":"t"},"x":{"datum":120,"scale":{"domain":[0,700],"range":[0,700]}},"y":{"datum":46,"scale":{"domain":[0,765],"range":[0,765]}}}},
{"data":{"values":[{"t":"-4.9","v":-4.9},{"t":"0","v":0},{"t":"4.9","v":4.9}]},"mark":{"type":"text","fontSize":6.5,"baseline":"middle","color":"#222"},"encoding":{"text":{"field":"t"},"x":{"field":"v","type":"quantitative","scale":{"domain":[-4.9,4.9],"range":[125,194]}},"y":{"datum":63.5,"scale":{"domain":[0,765],"range":[0,765]}}}},
{"data":{"values":[{"t":"A"}]},"mark":{"type":"text","fontSize":17,"fontWeight":"bold","align":"left","baseline":"middle","color":"#000"},"encoding":{"text":{"field":"t"},"x":{"datum":1,"scale":{"domain":[0,700],"range":[0,700]}},"y":{"datum":69,"scale":{"domain":[0,765],"range":[0,765]}}}},
{"data":{"values":[{"t":"B"}]},"mark":{"type":"text","fontSize":17,"fontWeight":"bold","align":"left","baseline":"middle","color":"#000"},"encoding":{"text":{"field":"t"},"x":{"datum":1,"scale":{"domain":[0,700],"range":[0,700]}},"y":{"datum":411,"scale":{"domain":[0,765],"range":[0,765]}}}},
{"data":{"values":[{"t":"C"}]},"mark":{"type":"text","fontSize":16,"fontWeight":"bold","align":"left","baseline":"middle","color":"#000"},"encoding":{"text":{"field":"t"},"x":{"datum":401,"scale":{"domain":[0,700],"range":[0,700]}},"y":{"datum":443,"scale":{"domain":[0,765],"range":[0,765]}}}},
{"data":{"name":"leaves"},"mark":{"type":"rule","strokeWidth":1.7,"color":"#a6a6a6"},"encoding":{"x":{"field":"s","type":"quantitative","scale":{"domain":[0,435],"range":[60,205]}},"x2":{"field":"e"},"y":{"field":"y","type":"quantitative","scale":{"domain":[0,705],"range":[75,310]}}}},
{"data":{"name":"leaves"},"mark":{"type":"rule","strokeWidth":3.6,"color":"#050505"},"encoding":{"x":{"field":"e","type":"quantitative","scale":{"domain":[0,435],"range":[60,205]}},"x2":{"datum":415},"y":{"field":"y","type":"quantitative","scale":{"domain":[0,705],"range":[75,310]}}}},
{"data":{"name":"rowTree"},"mark":{"type":"rule","strokeWidth":1,"color":"#808080"},"encoding":{"x":{"field":"a","type":"quantitative","scale":{"domain":[0,435],"range":[60,205]}},"x2":{"field":"c"},"y":{"field":"b","type":"quantitative","scale":{"domain":[0,705],"range":[75,310]}},"y2":{"field":"d"}}},
{"data":{"name":"samples"},"mark":{"type":"rect","color":"#080808"},"encoding":{"x":{"field":"c","type":"ordinal","scale":{"range":[201.7,508.3],"paddingInner":0.095,"paddingOuter":0}},"y":{"datum":80,"scale":{"domain":[0,765],"range":[0,765]}},"y2":{"datum":306}}},
{"data":{"name":"cellsA"},"mark":{"type":"rect"},"encoding":{"x":{"field":"c","type":"ordinal","scale":{"range":[201.7,508.3],"paddingInner":0.095,"paddingOuter":0}},"y":{"field":"r","type":"ordinal","scale":{"range":[80,306],"paddingInner":0,"paddingOuter":0}},"color":{"field":"v","type":"quantitative","scale":{"domain":[-4.9,-3,-1,0,1,3,4.9],"range":["#ed2024","#8c1a1c","#2e0c0d","#000000","#0c2a12","#1f7a36","#5ab946"]}}}},
{"data":{"name":"samples"},"mark":{"type":"rect"},"encoding":{"x":{"field":"c","type":"ordinal","scale":{"range":[201.7,508.3],"paddingInner":0.095,"paddingOuter":0}},"y":{"datum":311,"scale":{"domain":[0,765],"range":[0,765]}},"y2":{"datum":314},"color":{"field":"g","type":"nominal","scale":{"domain":["NORMAL","CANCER"],"range":["#3953a4","#ed2024"]}}}},
{"data":{"name":"samples"},"mark":{"type":"text","fontSize":12.5,"angle":270,"align":"left","baseline":"middle","color":"#111"},"encoding":{"text":{"field":"name"},"x":{"field":"c","type":"ordinal","scale":{"range":[200,506.6],"paddingInner":0.095,"paddingOuter":0}},"y":{"datum":365,"scale":{"domain":[0,765],"range":[0,765]}}}},
{"data":{"values":[{"t":"Group"}]},"mark":{"type":"text","fontSize":11,"fontWeight":"bold","align":"left","baseline":"middle","color":"#222"},"encoding":{"text":{"field":"t"},"x":{"datum":134,"scale":{"domain":[0,700],"range":[0,700]}},"y":{"datum":320,"scale":{"domain":[0,765],"range":[0,765]}}}},
{"data":{"name":"groups"},"mark":{"type":"rect"},"encoding":{"y":{"field":"g","type":"nominal","sort":null,"scale":{"range":[328,363],"paddingInner":0.2,"paddingOuter":0}},"x":{"datum":127.5,"scale":{"domain":[0,700],"range":[0,700]}},"x2":{"datum":140},"color":{"field":"g","type":"nominal","scale":{"domain":["NORMAL","CANCER"],"range":["#3953a4","#ed2024"]}}}},
{"data":{"name":"groups"},"mark":{"type":"text","fontSize":10,"fontWeight":"bold","align":"left","baseline":"middle","color":"#222"},"encoding":{"text":{"field":"g"},"y":{"field":"g","type":"nominal","sort":null,"scale":{"range":[328,363],"paddingInner":0.2,"paddingOuter":0}},"x":{"datum":143,"scale":{"domain":[0,700],"range":[0,700]}}}},
{"data":{"name":"methTree"},"mark":{"type":"rule","strokeWidth":1,"color":"#707070"},"encoding":{"x":{"field":"a","type":"quantitative","scale":{"domain":[0,43],"range":[0.5,43]}},"x2":{"field":"c"},"y":{"field":"b","type":"quantitative","scale":{"domain":[0,765],"range":[0,765]}},"y2":{"field":"d"}}},
{"data":{"name":"methDash"},"mark":{"type":"rule","strokeWidth":1.2,"color":"#111","strokeDash":[4,2]},"encoding":{"x":{"field":"a","type":"quantitative","scale":{"domain":[0,43],"range":[0.5,43]}},"x2":{"field":"c"},"y":{"field":"b","type":"quantitative","scale":{"domain":[0,765],"range":[0,765]}},"y2":{"field":"d"}}},
{"data":{"name":"cellsB"},"mark":{"type":"rect","strokeWidth":1},"encoding":{"x":{"field":"k","type":"nominal","sort":["Gene methylation","Gene expression"],"scale":{"range":[43.5,310],"paddingInner":0,"paddingOuter":0}},"y":{"field":"r","type":"ordinal","scale":{"range":[412,736],"paddingInner":0,"paddingOuter":0}},"color":{"field":"v","type":"quantitative","scale":{"domain":[-2.9,-1.5,0,1,2,2.7],"range":["#6abd45","#4cb748","#7d8038","#9a5f2c","#d0392a","#ed2024"]}},"stroke":{"field":"v","type":"quantitative","scale":{"domain":[-2.9,-1.5,0,1,2,2.7],"range":["#6abd45","#4cb748","#7d8038","#9a5f2c","#d0392a","#ed2024"]}}}},
{"data":{"name":"colorBar"},"mark":{"type":"rect","strokeWidth":1},"encoding":{"y":{"field":"v","type":"ordinal","sort":"descending","scale":{"range":[412,536],"paddingInner":0,"paddingOuter":0}},"x":{"datum":315,"scale":{"domain":[0,700],"range":[0,700]}},"x2":{"datum":322.5},"color":{"field":"v","type":"quantitative","scale":{"domain":[-2.9,-1.5,0,1,2,2.7],"range":["#6abd45","#4cb748","#7d8038","#9a5f2c","#d0392a","#ed2024"]}},"stroke":{"field":"v","type":"quantitative","scale":{"domain":[-2.9,-1.5,0,1,2,2.7],"range":["#6abd45","#4cb748","#7d8038","#9a5f2c","#d0392a","#ed2024"]}}}},
{"data":{"values":[{"t":"2","v":2},{"t":"1","v":1},{"t":"0","v":0},{"t":"-1","v":-1},{"t":"-2","v":-2}]},"mark":{"type":"text","fontSize":8.5,"align":"left","baseline":"middle","color":"#333"},"encoding":{"text":{"field":"t"},"y":{"field":"v","type":"quantitative","scale":{"domain":[-2,2],"range":[518,432]}},"x":{"datum":324.5,"scale":{"domain":[0,700],"range":[0,700]}}}},
{"data":{"values":[{"t":"Gene methylation"}]},"mark":{"type":"text","fontSize":15.2,"align":"left","baseline":"middle","color":"#111"},"encoding":{"text":{"field":"t"},"x":{"datum":41,"scale":{"domain":[0,700],"range":[0,700]}},"y":{"datum":750,"scale":{"domain":[0,765],"range":[0,765]}}}},
{"data":{"values":[{"t":"Gene expression"}]},"mark":{"type":"text","fontSize":15.4,"align":"left","baseline":"middle","color":"#111"},"encoding":{"text":{"field":"t"},"x":{"datum":184,"scale":{"domain":[0,700],"range":[0,700]}},"y":{"datum":749,"scale":{"domain":[0,765],"range":[0,765]}}}},
{"data":{"values":[{"t":"Aberrant methylated genes in rectal cancer"}]},"mark":{"type":"text","fontSize":12.8,"fontWeight":"bold","align":"center","baseline":"middle","color":"#222"},"encoding":{"text":{"field":"t"},"x":{"datum":542,"scale":{"domain":[0,700],"range":[0,700]}},"y":{"datum":474,"scale":{"domain":[0,765],"range":[0,765]}}}},
{"data":{"name":"donut"},"mark":{"type":"arc","radius":66.8,"radius2":32.2,"color":"#000"},"encoding":{"theta":{"field":"from","type":"quantitative","scale":{"domain":[0,100],"range":[0,6.2832]}},"theta2":{"field":"to"},"x":{"field":"explode","type":"quantitative","scale":{"domain":[0,1],"range":[483,485]}},"y":{"field":"explode","type":"quantitative","scale":{"domain":[0,1],"range":[590,577.2]}}}},
{"data":{"name":"donut"},"mark":{"type":"arc","radius":66,"radius2":33},"encoding":{"theta":{"field":"from","type":"quantitative","scale":{"domain":[0,100],"range":[0,6.2832]}},"theta2":{"field":"to"},"x":{"field":"explode","type":"quantitative","scale":{"domain":[0,1],"range":[483,485]}},"y":{"field":"explode","type":"quantitative","scale":{"domain":[0,1],"range":[590,577.2]}},"color":{"field":"group","type":"nominal","scale":{"domain":["|fold change|≥ 2","|fold change|< 2"],"range":["#3953a4","#ed2024"]}}}},
{"data":{"values":[{"t":"box"}]},"mark":{"type":"rect","color":"white"},"encoding":{"x":{"datum":473.5,"scale":{"domain":[0,700],"range":[0,700]}},"x2":{"datum":514},"y":{"datum":630.5,"scale":{"domain":[0,765],"range":[0,765]}},"y2":{"datum":643.5}}},
{"data":{"values":[{"t":"94.84%"}]},"mark":{"type":"text","fontSize":10.5,"align":"center","baseline":"middle","color":"#333"},"encoding":{"text":{"field":"t"},"x":{"datum":494,"scale":{"domain":[0,700],"range":[0,700]}},"y":{"datum":637.5,"scale":{"domain":[0,765],"range":[0,765]}}}},
{"data":{"values":[{"t":"5.16%"}]},"mark":{"type":"text","fontSize":10.5,"align":"center","baseline":"middle","color":"#333"},"encoding":{"text":{"field":"t"},"x":{"datum":506,"scale":{"domain":[0,700],"range":[0,700]}},"y":{"datum":505,"scale":{"domain":[0,765],"range":[0,765]}}}},
{"data":{"values":[{"t":"Gene expression"}]},"mark":{"type":"text","fontSize":12.7,"fontWeight":"bold","align":"left","baseline":"middle","color":"#222"},"encoding":{"text":{"field":"t"},"x":{"datum":571,"scale":{"domain":[0,700],"range":[0,700]}},"y":{"datum":539,"scale":{"domain":[0,765],"range":[0,765]}}}},
{"data":{"name":"donut"},"mark":{"type":"rect","stroke":"#111","strokeWidth":1.3},"encoding":{"y":{"field":"group","type":"nominal","sort":null,"scale":{"range":[571.7,607.6],"paddingInner":0.7,"paddingOuter":0}},"x":{"datum":576.5,"scale":{"domain":[0,700],"range":[0,700]}},"x2":{"datum":596},"color":{"field":"group","type":"nominal","scale":{"domain":["|fold change|≥ 2","|fold change|< 2"],"range":["#3953a4","#ed2024"]}}}},
{"data":{"values":[{"t":"|fold change|≥ 2"}]},"mark":{"type":"text","fontSize":12.5,"fontWeight":"bold","align":"left","baseline":"middle","color":"#222"},"encoding":{"text":{"field":"t"},"x":{"datum":605,"scale":{"domain":[0,700],"range":[0,700]}},"y":{"datum":576.7,"scale":{"domain":[0,765],"range":[0,765]}}}},
{"data":{"values":[{"t":"|fold change|< 2"}]},"mark":{"type":"text","fontSize":12.5,"fontWeight":"bold","align":"left","baseline":"middle","color":"#222"},"encoding":{"text":{"field":"t"},"x":{"datum":603,"scale":{"domain":[0,700],"range":[0,700]}},"y":{"datum":602.5,"scale":{"domain":[0,765],"range":[0,765]}}}},
{"data":{"values":[{"t":"Total=2498"}]},"mark":{"type":"text","fontSize":12.8,"fontWeight":"bold","align":"center","baseline":"middle","color":"#222"},"encoding":{"text":{"field":"t"},"x":{"datum":487,"scale":{"domain":[0,700],"range":[0,700]}},"y":{"datum":689,"scale":{"domain":[0,765],"range":[0,765]}}}}
]}
